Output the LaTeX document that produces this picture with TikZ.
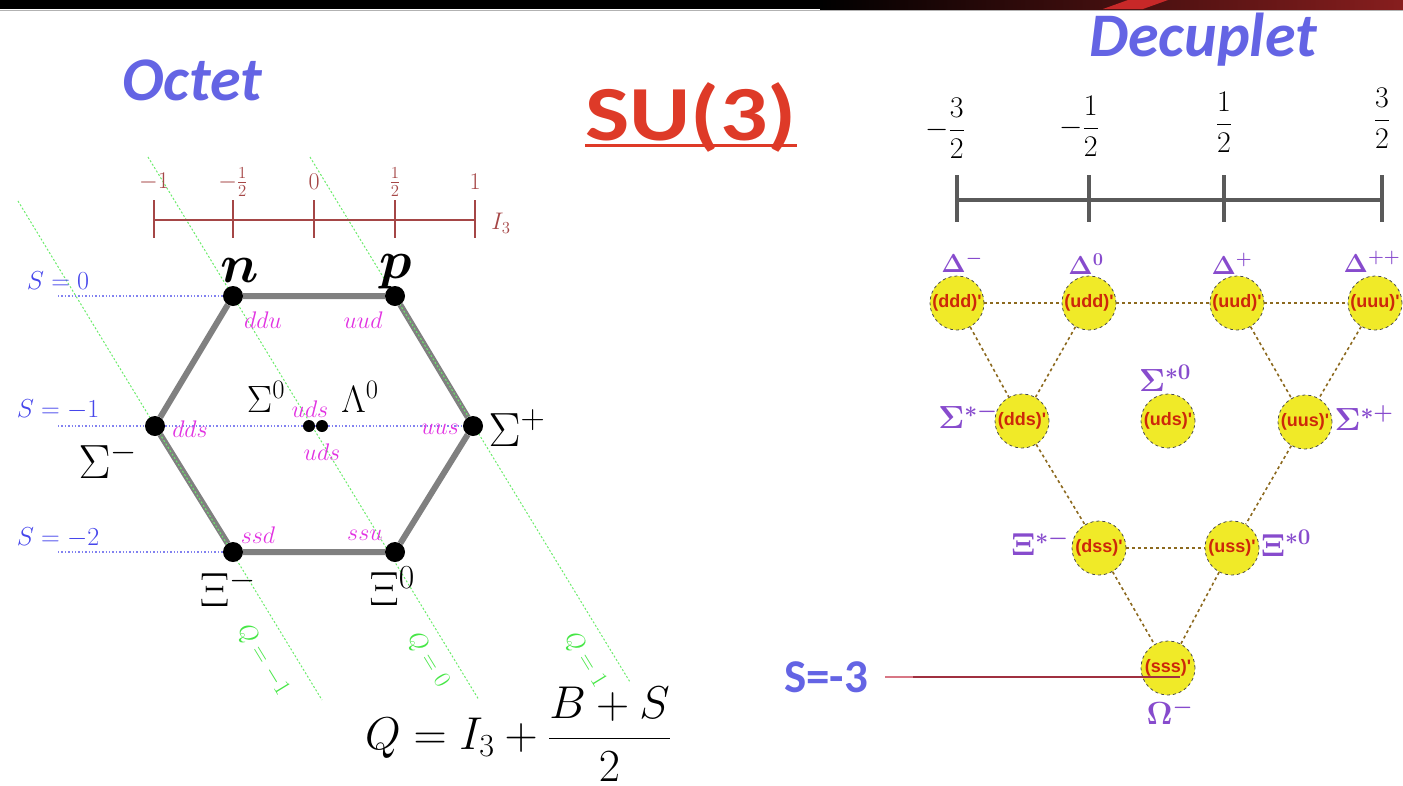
\RequirePackage{fix-cm}
\documentclass[tikz,border=0pt]{standalone}
\usepackage{fontspec}
\usepackage{amsmath}
\usepackage{bm}
\usetikzlibrary{backgrounds}
\newfontfamily\titlefont{Carlito}
\newfontfamily\quarkfont{Liberation Sans}

\definecolor{titleblue}{RGB}{100,100,228}
\definecolor{sured}{RGB}{222,58,40}
\definecolor{axisred}{RGB}{165,70,70}
\definecolor{slineblue}{RGB}{130,130,240}
\definecolor{slabblue}{RGB}{70,70,235}
\definecolor{qgreen}{RGB}{70,230,70}
\definecolor{quarkpink}{RGB}{225,50,225}
\definecolor{decgray}{RGB}{90,90,90}
\definecolor{ballyellow}{RGB}{240,234,40}
\definecolor{ballred}{RGB}{205,40,10}
\definecolor{linkbrown}{RGB}{140,105,30}
\definecolor{starpurple}{RGB}{135,75,205}
\definecolor{barred}{RGB}{135,30,30}
\definecolor{stripered}{RGB}{200,40,40}
\definecolor{sthreered}{RGB}{200,60,80}

\tikzset{
  title/.style={titleblue, font=\titlefont\bfseries\itshape\fontsize{62}{64}\selectfont, inner sep=0pt},
  sutitle/.style={sured, font=\titlefont\bfseries\fontsize{78}{80}\selectfont, inner sep=0pt, xscale=1.2},
  i3axis/.style={axisred, line width=1.5pt},
  i3tick/.style={axisred, font=\fontsize{24}{26}\selectfont},
  vertex/.style={circle, fill=black, inner sep=0pt, minimum size=20pt},
  cdot/.style={circle, fill=black, inner sep=0pt, minimum size=12pt},
  hexedge/.style={black!50, line width=6pt},
  sline/.style={slineblue, dotted, line width=1.4pt},
  qline/.style={qgreen!80!white, dash pattern=on 2pt off 2pt, line width=1pt},
  slabel/.style={slabblue, font=\fontsize{26}{28}\selectfont},
  qlabel/.style={qgreen, font=\fontsize{24}{26}\selectfont, rotate=-58.6},
  quark/.style={quarkpink, font=\fontsize{24}{26}\selectfont, inner sep=1pt},
  hadron/.style={font=\fontsize{48}{50}\selectfont, inner sep=0pt},
  decaxis/.style={decgray, line width=4pt},
  fraclab/.style={font=\fontsize{30}{32}\selectfont},
  ball/.style={circle, fill=ballyellow, draw=black!70, dashed, line width=0.8pt,
    minimum size=54pt, inner sep=0pt, text=ballred,
    font=\quarkfont\bfseries\fontsize{18}{20}\selectfont},
  link/.style={linkbrown, dashed, line width=1.6pt},
  star/.style={starpurple, font=\boldmath\fontsize{32}{34}\selectfont, inner sep=0pt},
  delta/.style={starpurple, font=\boldmath\fontsize{26}{28}\selectfont, inner sep=0pt},
}

\begin{document}
\begin{tikzpicture}[x=1pt, y=-1pt]
  \useasboundingbox (0,0) rectangle (1403,785);

  % Top bar
  \fill[black] (0,0) rectangle (820,9);
  \shade[left color=black, right color=barred] (820,0) rectangle (1403,9);
  \fill[stripered] (1128,0) -- (1168,0) -- (1143,9) -- (1103,9) -- cycle;
  \draw[black!30, line width=1pt] (0,10.5) -- (1403,10.5);

  % Titles
  \node[title] (octet) at (192,80) {Octet};
  \node[title] (decuplet) at (1203,40) {Decuplet};
  \node[sutitle] (su) at (691,117) {SU(3)};
  \draw[sured, line width=3pt] ([yshift=7pt]su.south west) -- ([yshift=7pt]su.south east);

  % Octet: I_3 axis
  \draw[i3axis] (154,220) -- (475,220);
  \foreach \x/\lab [count=\i] in {154/{-1}, 233/{-\frac{1}{2}}, 314/{0}, 395/{\frac{1}{2}}, 475/{1}} {
    \draw[i3axis] (\x,200) -- (\x,238);
    \node[i3tick] (tick\i) at (\x,182) {$\lab$};
  }
  \node[i3tick] (i3) at (501,223) {$I_3$};

  % Octet: weight points
  \node[vertex] (n) at (233,296) {};
  \node[vertex] (p) at (395,296) {};
  \node[vertex] (sigm) at (155,426) {};
  \node[vertex] (sigp) at (473,426) {};
  \node[vertex] (xim) at (233,552) {};
  \node[vertex] (xiz) at (395,552) {};
  \node[cdot] (sigz) at (309,426) {};
  \node[cdot] (lamz) at (322,426) {};

  \begin{pgfonlayer}{background}
    % hexagon
    \draw[hexedge] (n) -- (p) -- (sigp) -- (xiz) -- (xim) -- (sigm) -- (n);
    % strangeness lines
    \coordinate (szero) at (58,296);
    \coordinate (sone) at (58,426);
    \coordinate (stwo) at (58,552);
    \draw[sline] (szero) -- (n);
    \draw[sline] (sone) -- (sigm);
    \draw[sline] (sigm) -- (sigp);
    \draw[sline] (stwo) -- (xim);
    % charge lines
    \coordinate (qma) at (18,201);
    \coordinate (qmb) at (322,700);
    \coordinate (qza) at (148,157);
    \coordinate (qzb) at (479,700);
    \coordinate (qpa) at (310,157);
    \coordinate (qpb) at (630,682);
    \draw[qline] (qma) -- (qmb);
    \draw[qline] (qza) -- (qzb);
    \draw[qline] (qpa) -- (qpb);
  \end{pgfonlayer}

  % Octet labels
  \node[slabel] (lsz) at (58,281) {$S=0$};
  \node[slabel] (lso) at (58,410) {$S=-1$};
  \node[slabel] (lst) at (58,538) {$S=-2$};
  \node[qlabel] (lqm) at (263,660) {$Q=-1$};
  \node[qlabel] (lqz) at (428,660) {$Q=0$};
  \node[qlabel] (lqp) at (585,660) {$Q=1$};

  \node[hadron, font=\fontsize{54}{56}\selectfont] (ln) at (240,270) {$\bm{n}$};
  \node[hadron, font=\fontsize{54}{56}\selectfont] (lp) at (396,272) {$\bm{p}$};
  \node[hadron] (lsigm) at (108,460) {$\Sigma^-$};
  \node[hadron] (lsigp) at (517,428) {$\Sigma^+$};
  \node[hadron, font=\fontsize{38}{40}\selectfont] (lsigz) at (266,397) {$\Sigma^0$};
  \node[hadron, font=\fontsize{38}{40}\selectfont] (llamz) at (360,397) {$\Lambda^0$};
  \node[hadron] (lxim) at (228,588) {$\Xi^-$};
  \node[hadron] (lxiz) at (392,586) {$\Xi^0$};

  \node[quark] (qddu) at (263,320) {$ddu$};
  \node[quark] (quud) at (363,320) {$uud$};
  \node[quark] (qdds) at (190,429) {$dds$};
  \node[quark] (quus) at (440,429) {$uus$};
  \node[quark] (qudsa) at (310,409) {$uds$};
  \node[quark] (qudsb) at (322,452) {$uds$};
  \node[quark] (qssd) at (258,535) {$ssd$};
  \node[quark] (qssu) at (365,535) {$ssu$};

  % Gell-Mann--Nishijima relation
  \node[font=\fontsize{46}{48}\selectfont] (gmn) at (518,734) {$Q=I_3+\dfrac{B+S}{2}$};

  % Decuplet: I_3 axis
  \draw[decaxis] (957,200) -- (1382,200);
  \foreach \x in {957,1089,1224,1382}
    \draw[decaxis] (\x,175) -- (\x,222);
  \node[fraclab] (fa) at (945,128) {$-\dfrac{3}{2}$};
  \node[fraclab] (fb) at (1079,126) {$-\dfrac{1}{2}$};
  \node[fraclab] (fc) at (1224,122) {$\dfrac{1}{2}$};
  \node[fraclab] (fd) at (1382,118) {$\dfrac{3}{2}$};

  % Decuplet: states
  \node[ball] (ddd) at (957,303) {(ddd)'};
  \node[ball] (udd) at (1089,303) {(udd)'};
  \node[ball] (uud) at (1237,303) {(uud)'};
  \node[ball] (uuu) at (1375,303) {(uuu)'};
  \node[ball] (dds) at (1022,421) {(dds)'};
  \node[ball] (uds) at (1168,421) {(uds)'};
  \node[ball] (uus) at (1305,422) {(uus)'};
  \node[ball] (dss) at (1099,548) {(dss)'};
  \node[ball] (uss) at (1232,548) {(uss)'};
  \node[ball] (sss) at (1168,668) {(sss)'};

  \draw[link] (ddd) -- (udd);
  \draw[link] (udd) -- (uud);
  \draw[link] (uud) -- (uuu);
  \draw[link] (ddd) -- (dds);
  \draw[link] (udd) -- (dds);
  \draw[link] (uud) -- (uus);
  \draw[link] (uuu) -- (uus);
  \draw[link] (dds) -- (dss);
  \draw[link] (uus) -- (uss);
  \draw[link] (dss) -- (uss);
  \draw[link] (dss) -- (sss);
  \draw[link] (uss) -- (sss);

  % Decuplet labels
  \node[delta] (ldm) at (962,262) {$\Delta^-$};
  \node[delta] (ldz) at (1086,264) {$\Delta^0$};
  \node[delta] (ldp) at (1232,264) {$\Delta^+$};
  \node[delta] (ldpp) at (1372,262) {$\Delta^{++}$};
  \node[star] (lssm) at (968,416) {$\Sigma^{*-}$};
  \node[star] (lssz) at (1165,378) {$\Sigma^{*0}$};
  \node[star] (lssp) at (1364,418) {$\Sigma^{*+}$};
  \node[star] (lxsm) at (1040,543) {$\Xi^{*-}$};
  \node[star] (lxsz) at (1286,543) {$\Xi^{*0}$};
  \node[star] (lom) at (1170,712) {$\Omega^-$};

  % S = -3 row
  \node[titleblue, font=\titlefont\bfseries\fontsize{47}{49}\selectfont, inner sep=0pt] (sthree) at (826,677) {S=-3};
  \coordinate (sra) at (885,677);
  \coordinate (srb) at (913,677);
  \coordinate (src) at (1180,677);
  \draw[sthreered!70!white, line width=2pt] (sra) -- (src);
  \draw[sthreered!80!black, line width=2pt] (srb) -- (src);
\end{tikzpicture}
\end{document}
